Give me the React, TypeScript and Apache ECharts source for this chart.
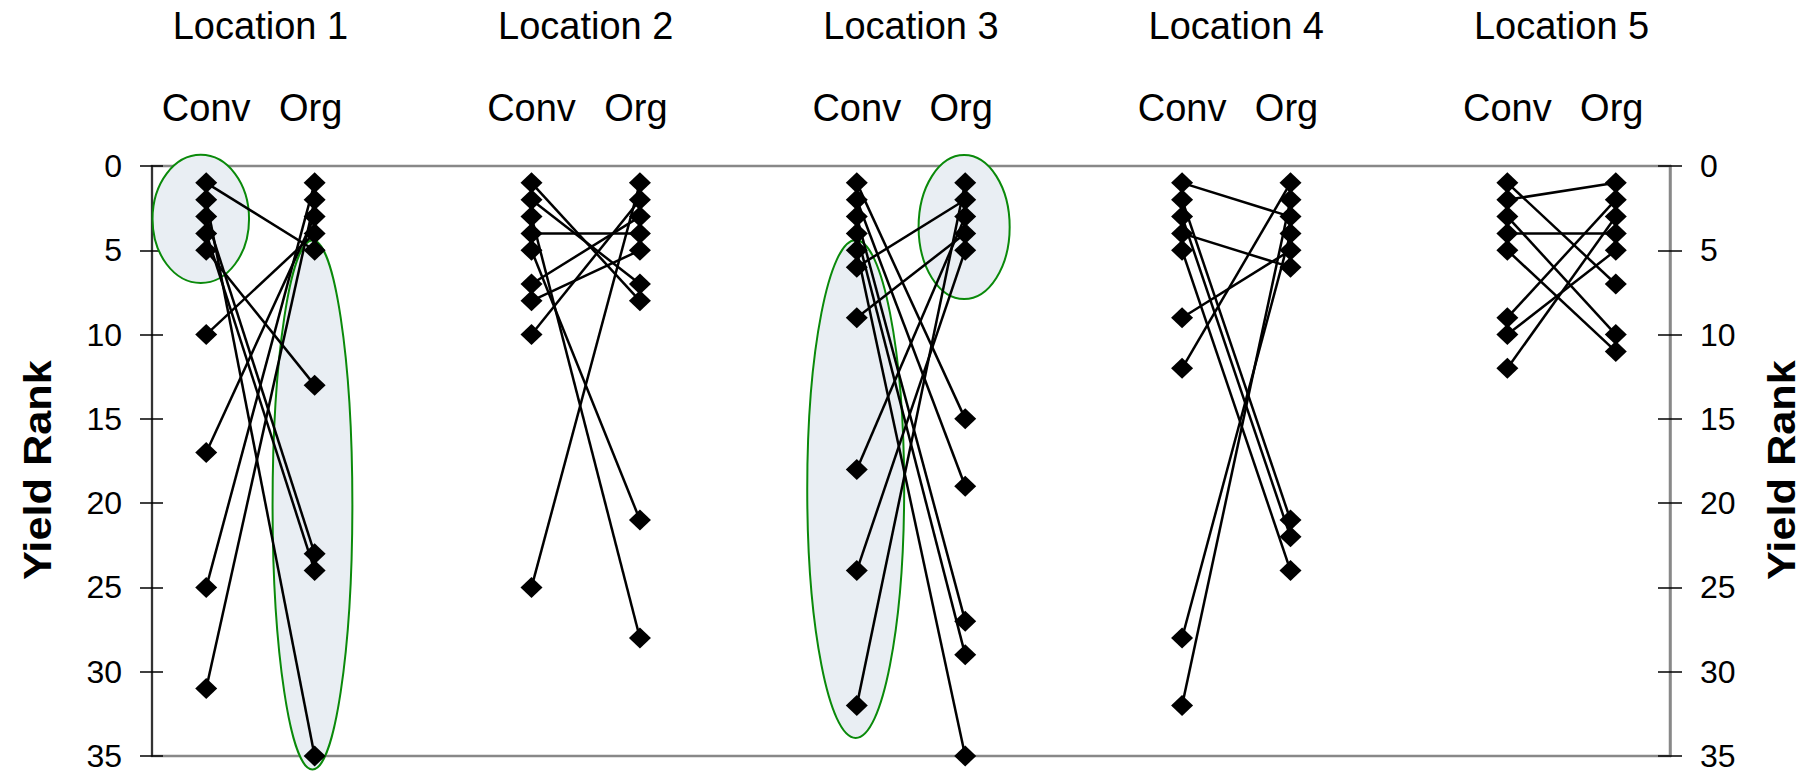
import React, { useEffect, useRef } from "react";
import * as echarts from "echarts";

// ---- Data -------------------------------------------------------------
const locations = ["Location 1", "Location 2", "Location 3", "Location 4", "Location 5"];
const systems = ["Conv", "Org"];
const axisTitle = "Yield Rank";

// yield rank of each variety under conventional (Conv) and organic (Org) management
const loc1Conv = [1, 2, 3, 4, 5, 10, 17, 25, 31];
const loc1Org = [5, 35, 23, 24, 13, 4, 3, 1, 2];

const loc2Conv = [1, 2, 3, 4, 5, 7, 8, 10, 25];
const loc2Org = [8, 7, 28, 4, 21, 3, 5, 2, 1];

const loc3Conv = [1, 2, 3, 4, 5, 6, 9, 18, 24, 32];
const loc3Org = [15, 19, 27, 29, 35, 2, 4, 3, 5, 1];

const loc4Conv = [1, 2, 3, 4, 5, 9, 12, 28, 32];
const loc4Org = [3, 21, 22, 6, 24, 5, 1, 4, 2];

const loc5Conv = [1, 2, 3, 4, 5, 9, 10, 12];
const loc5Org = [7, 1, 10, 4, 11, 2, 5, 3];

const convRanks = [loc1Conv, loc2Conv, loc3Conv, loc4Conv, loc5Conv];
const orgRanks = [loc1Org, loc2Org, loc3Org, loc4Org, loc5Org];

// highlighted groups: location index, system index (0 Conv, 1 Org), rank centre / half-extent
const highlightLoc = [0, 0, 2, 2];
const highlightSys = [0, 1, 0, 1];
const highlightRankCentre = [3.14, 20.1, 19.16, 3.62];
const highlightRankHalf = [3.8, 15.7, 14.77, 4.27];
const highlightShift = [-0.05, -0.02, -0.01, -0.01];
const highlightHalfWidth = [0.445, 0.368, 0.447, 0.42];

const FONT = "'Liberation Sans', Arial, Helvetica, sans-serif";

// x position (in axis units) of a location/system column
const colX = (li: number, si: number) => li * 3 + 0.5 + si;

export default function App() {
  const ref = useRef<HTMLDivElement>(null);

  useEffect(() => {
    const chart = echarts.init(ref.current!, null, { renderer: "svg" });

    const series: any[] = [];
    convRanks.forEach((cr, li) => {
      cr.forEach((c, vi) => {
        series.push({
          type: "line",
          xAxisIndex: 0,
          yAxisIndex: 0,
          data: [
            [colX(li, 0), c],
            [colX(li, 1), orgRanks[li][vi]],
          ],
          symbol: "diamond",
          symbolSize: [22, 21],
          itemStyle: { color: "#000" },
          lineStyle: { color: "#000", width: 2.5 },
          z: 3,
          silent: true,
        });
      });
    });

    const yBase = {
      type: "value",
      inverse: true,
      min: 0,
      max: 35,
      interval: 5,
      splitLine: { show: false },
    };

    chart.setOption({
      animation: false,
      textStyle: { fontFamily: FONT },
      grid: {
        left: 152,
        right: 134,
        top: 166,
        bottom: 20,
        show: true,
        borderColor: "#888",
        borderWidth: 2.5,
        backgroundColor: "transparent",
      },
      xAxis: { type: "value", min: 0, max: 14, show: false },
      yAxis: [
        {
          ...yBase,
          position: "left",
          axisLine: { show: true, lineStyle: { color: "#333", width: 2 } },
          axisTick: { show: true, inside: false, length: 12, lineStyle: { color: "#000", width: 1.5 } },
          axisLabel: { show: true, fontSize: 32, color: "#000", margin: 30, fontFamily: FONT },
        },
        {
          ...yBase,
          position: "left",
          axisLine: { show: false },
          axisTick: { show: true, inside: true, length: 11, lineStyle: { color: "#000", width: 1.5 } },
          axisLabel: { show: false },
        },
        {
          ...yBase,
          position: "right",
          axisLine: { show: true, lineStyle: { color: "#888", width: 2.5 } },
          axisTick: { show: true, inside: false, length: 12, lineStyle: { color: "#000", width: 1.5 } },
          axisLabel: { show: true, fontSize: 32, color: "#000", margin: 30, fontFamily: FONT },
        },
        {
          ...yBase,
          position: "right",
          axisLine: { show: false },
          axisTick: { show: true, inside: true, length: 12, lineStyle: { color: "#000", width: 1.5 } },
          axisLabel: { show: false },
        },
      ],
      series,
    });

    const toPx = (x: number, y: number) =>
      chart.convertToPixel({ xAxisIndex: 0, yAxisIndex: 0 }, [x, y]) as number[];

    const graphic: any[] = [];

    highlightLoc.forEach((li, i) => {
      const cx = colX(li, highlightSys[i]) + highlightShift[i];
      const c = toPx(cx, highlightRankCentre[i]);
      const ex = toPx(cx + highlightHalfWidth[i], highlightRankCentre[i]);
      const ey = toPx(cx, highlightRankCentre[i] + highlightRankHalf[i]);
      graphic.push({
        type: "ellipse",
        z: 1,
        silent: true,
        shape: { cx: c[0], cy: c[1], rx: Math.abs(ex[0] - c[0]), ry: Math.abs(ey[1] - c[1]) },
        style: { fill: "#e9eef3", stroke: "#0a8a0a", lineWidth: 2 },
      });
    });

    locations.forEach((name, li) => {
      const a = toPx(colX(li, 0), 0);
      const b = toPx(colX(li, 1), 0);
      graphic.push({
        type: "text",
        z: 5,
        x: (a[0] + b[0]) / 2,
        y: 26,
        style: {
          text: name,
          fontSize: 38,
          fontFamily: FONT,
          fill: "#000",
          align: "center",
          verticalAlign: "middle",
        },
      });
      systems.forEach((s, si) => {
        const p = si === 0 ? a : b;
        graphic.push({
          type: "text",
          z: 5,
          x: p[0] + (si === 1 ? -4 : 0),
          y: 108,
          style: {
            text: s,
            fontSize: 38,
            fontFamily: FONT,
            fill: "#000",
            align: "center",
            verticalAlign: "middle",
          },
        });
      });
    });

    // rotated axis titles on both sides, centred on the plot's rank range
    const top = toPx(0, 0);
    const bottom = toPx(0, 35);
    const midY = (top[1] + bottom[1]) / 2 + 9;
    [38, 1782].forEach((x) => {
      graphic.push({
        type: "text",
        z: 5,
        x,
        y: midY,
        rotation: Math.PI / 2,
        scaleX: 1.14,
        style: {
          text: axisTitle,
          fontSize: 38,
          fontWeight: "bold",
          fontFamily: FONT,
          fill: "#000",
          align: "center",
          verticalAlign: "middle",
        },
      });
    });

    chart.setOption({ graphic });

    return () => chart.dispose();
  }, []);

  return (
    <div
      ref={ref}
      style={{ position: "absolute", left: 0, top: 0, width: 1804, height: 776, background: "#fff" }}
    />
  );
}
